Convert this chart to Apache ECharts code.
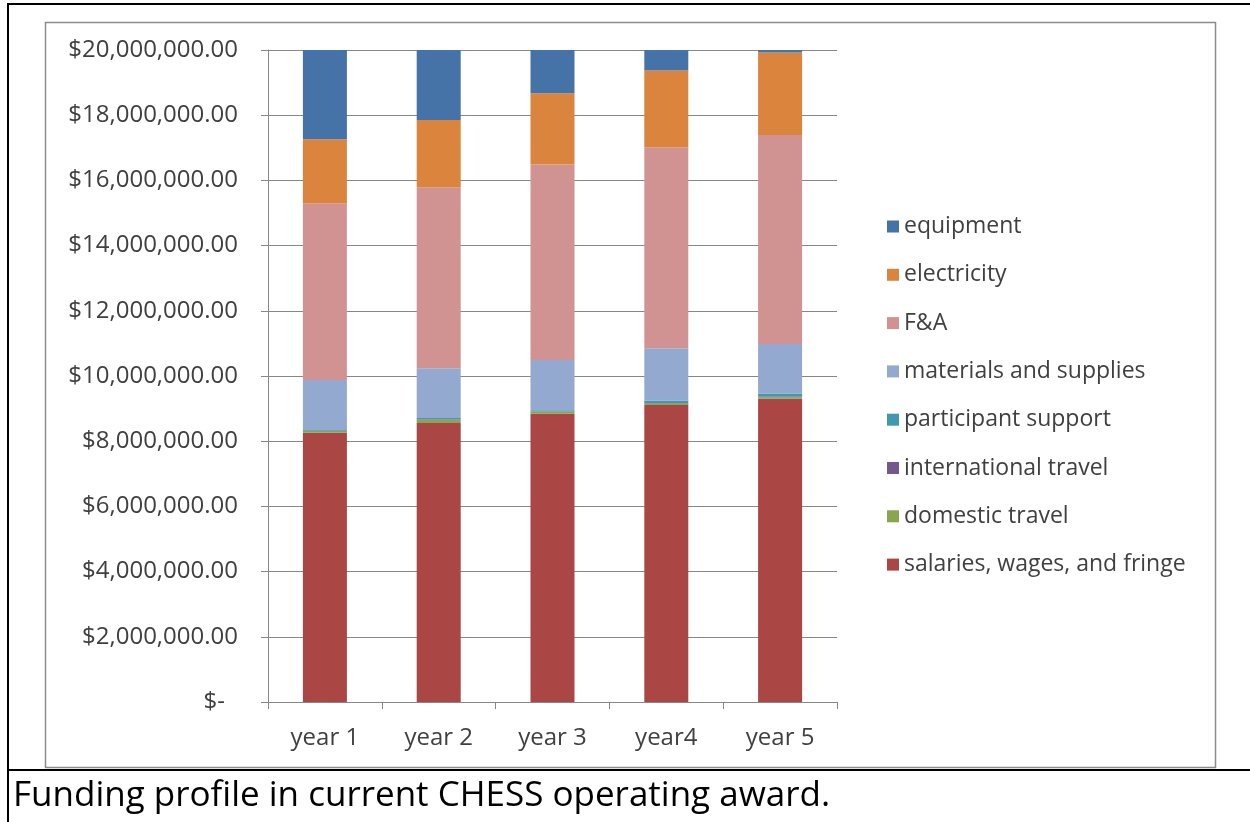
<!DOCTYPE html>
<html>
<head>
<meta charset="utf-8">
<style>
  html, body { margin: 0; padding: 0; background: #fff; }
  #container { width: 1250px; height: 822px; }
</style>
<script src="https://cdn.jsdelivr.net/npm/echarts@6/dist/echarts.min.js"></script>
</head>
<body>
<div id="container"></div>
<script>
var years = ["year 1", "year 2", "year 3", "year4", "year 5"];

// dollars per year, stacked from the bottom up
var salaries = [8260000, 8560000, 8840000, 9110000, 9300000];
var domesticTravel = [50000, 100000, 60000, 50000, 50000];
var internationalTravel = [10000, 10000, 10000, 10000, 10000];
var participantSupport = [20000, 40000, 40000, 80000, 100000];
var materials = [1540000, 1530000, 1540000, 1600000, 1520000];
var fAndA = [5420000, 5550000, 6000000, 6170000, 6410000];
var electricity = [1960000, 2060000, 2180000, 2350000, 2530000];
var equipment = [2740000, 2150000, 1330000, 630000, 80000];

var caption = "Funding profile in current CHESS operating award.";

var dom = document.getElementById("container");
var myChart = echarts.init(dom, null, { renderer: "canvas" });

var font = "Open Sans";
var textColor = "#404040";
var lineColor = "#878787";

function money(v) {
  if (v === 0) return "{z|$-}"; // accounting style dash sits a bit further left
  return "$" + v.toLocaleString("en-US") + ".00";
}

function bar(name, data, color) {
  return {
    name: name,
    type: "bar",
    stack: "total",
    barWidth: 44,
    data: data,
    itemStyle: { color: color },
  };
}

var option = {
  animation: false,
  backgroundColor: "#fff",
  textStyle: { fontFamily: font },
  grid: { left: 268, right: 413, top: 50, bottom: 120 },
  legend: {
    orient: "vertical",
    left: 882,
    top: 210,
    itemWidth: 12,
    itemHeight: 12,
    itemGap: 25.3,
    icon: "rect",
    textStyle: { fontFamily: font, fontSize: 23, color: textColor },
    data: [
      "equipment",
      "electricity",
      "F&A",
      "materials and supplies",
      "participant support",
      "international travel",
      "domestic travel",
      "salaries, wages, and fringe",
    ],
  },
  xAxis: {
    type: "category",
    data: years,
    axisLine: { lineStyle: { color: lineColor, width: 1 } },
    axisTick: { show: true, length: 7, lineStyle: { color: lineColor } },
    axisLabel: { fontFamily: font, fontSize: 24, color: textColor, margin: 24 },
  },
  yAxis: {
    type: "value",
    min: 0,
    max: 20000000,
    interval: 2000000,
    axisLine: { show: true, lineStyle: { color: lineColor, width: 1 } },
    axisTick: { show: true, length: 7, lineStyle: { color: lineColor } },
    splitLine: { lineStyle: { color: lineColor, width: 1 } },
    axisLabel: {
      fontFamily: font,
      fontSize: 24,
      color: textColor,
      margin: 30,
      formatter: money,
      rich: {
        z: {
          fontFamily: font,
          fontSize: 24,
          color: textColor,
          padding: [0, 13, 0, 0],
        },
      },
    },
  },
  series: [
    bar("salaries, wages, and fringe", salaries, "#AA4643"),
    bar("domestic travel", domesticTravel, "#89A54E"),
    bar("international travel", internationalTravel, "#71588F"),
    bar("participant support", participantSupport, "#4198AF"),
    bar("materials and supplies", materials, "#93A9CF"),
    bar("F&A", fAndA, "#D19392"),
    bar("electricity", electricity, "#DB843D"),
    bar("equipment", equipment, "#4572A7"),
  ],
  graphic: [
    // inner chart frame
    {
      type: "rect",
      z: -10,
      shape: { x: 45.5, y: 22.5, width: 1170, height: 745 },
      style: { fill: "#fff", stroke: "#8c8c8c", lineWidth: 1.5 },
    },
    // outer table rules
    {
      type: "line",
      shape: { x1: 8, y1: 4, x2: 1250, y2: 4 },
      style: { stroke: "#000", lineWidth: 2 },
    },
    {
      type: "line",
      shape: { x1: 8, y1: 3, x2: 8, y2: 822 },
      style: { stroke: "#000", lineWidth: 2 },
    },
    {
      type: "line",
      shape: { x1: 8, y1: 770, x2: 1250, y2: 770 },
      style: { stroke: "#000", lineWidth: 2 },
    },
    {
      type: "text",
      x: 13,
      y: 796,
      style: {
        text: caption,
        fontFamily: font,
        fontSize: 35,
        fill: "#000",
        verticalAlign: "middle",
      },
    },
  ],
};

myChart.setOption(option);
window.addEventListener("resize", myChart.resize);
</script>
</body>
</html>
